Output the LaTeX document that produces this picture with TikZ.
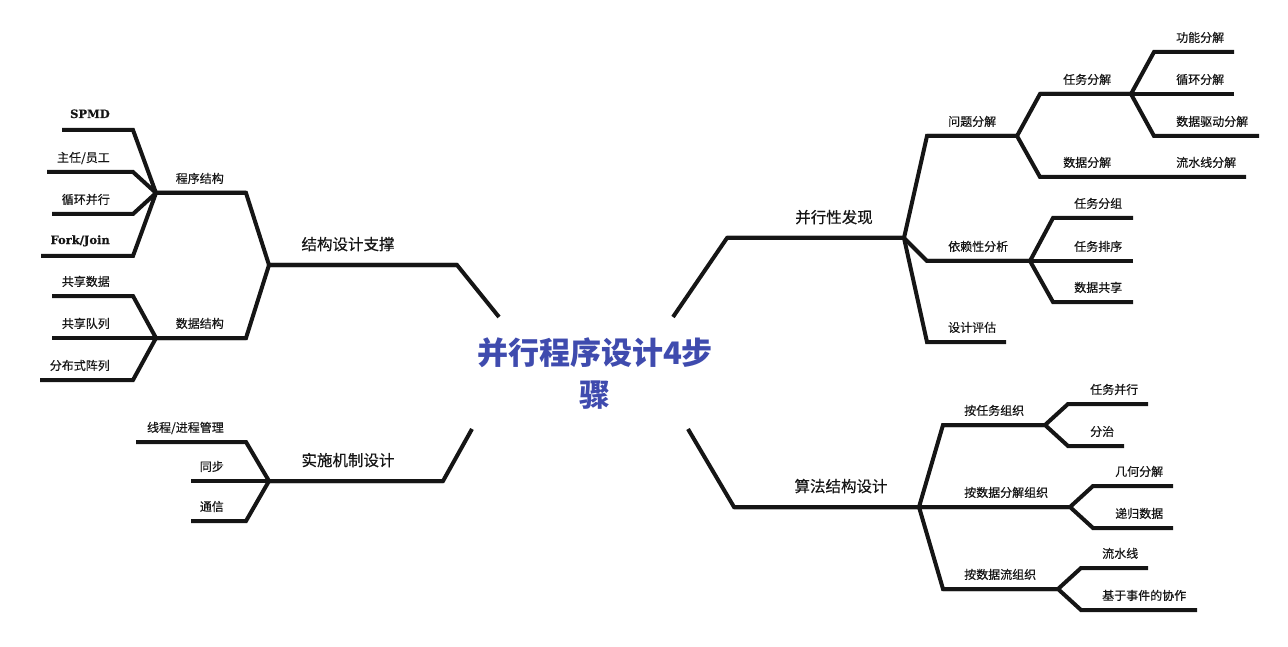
\documentclass[tikz,border=0pt]{standalone}
\usepackage{fontspec}
\newfontfamily\cjk[FakeBold=0.4]{Noto Sans CJK SC}
\newfontfamily\cjkroot{Noto Sans CJK SC}
\newfontfamily\serifb[FakeBold=0.5]{DejaVu Serif}
\definecolor{linecol}{HTML}{151515}
\definecolor{rootcol}{HTML}{3F4BAE}
\tikzset{
  branch/.style={line width=4pt,draw=linecol,line join=miter},
  leaf/.style={font=\cjk\fontsize{12}{14}\selectfont,text=linecol,inner sep=0pt},
  latin/.style={font=\serifb\bfseries\fontsize{11.5}{14}\selectfont,text=linecol,inner sep=0pt},
  topic/.style={font=\cjk\fontsize{15.5}{18}\selectfont,text=linecol,inner sep=0pt},
}
\begin{document}
\begin{tikzpicture}[x=1pt,y=-1pt]
\useasboundingbox (0,0) rectangle (1288,647);
\node[font=\cjkroot\bfseries\fontsize{31}{42}\selectfont,text=rootcol,align=center,inner sep=0pt] (root) at (595,374) {并行程序设计4步\\骤};
\coordinate (ul) at (499,317);
\coordinate (ur) at (673,317);
\coordinate (ll) at (472,429);
\coordinate (lr) at (688,429);

% left top
\coordinate (jgB) at (457,265); \coordinate (jgH) at (269,265);
\coordinate (cxB) at (246,193); \coordinate (cxH) at (156,193);
\coordinate (sjB) at (246,338); \coordinate (sjH) at (156,338);
\coordinate (spmdB) at (133,130); \coordinate (spmdE) at (62,130);
\coordinate (zrB) at (133,172); \coordinate (zrE) at (47,172);
\coordinate (xhB) at (133,214); \coordinate (xhE) at (52,214);
\coordinate (fjB) at (133,256); \coordinate (fjE) at (41,256);
\coordinate (gxB) at (133,296); \coordinate (gxE) at (52,296);
\coordinate (dlE) at (52,338);
\coordinate (fbB) at (133,380); \coordinate (fbE) at (40,380);
\node[topic,anchor=base] (jg) at (348,250) {结构设计支撑};
\node[leaf,anchor=base east] (cx) at (224,183) {程序结构};
\node[leaf,anchor=base east] (sj) at (224,328) {数据结构};
\node[latin,anchor=base east] (spmd) at (110,118) {SPMD};
\node[leaf,anchor=base east] (zr) at (110,162) {主任/员工};
\node[leaf,anchor=base east] (xh) at (110,204) {循环并行};
\node[latin,anchor=base east] (fj) at (110,244) {Fork/Join};
\node[leaf,anchor=base east] (gx) at (110,286) {共享数据};
\node[leaf,anchor=base east] (dl) at (110,328) {共享队列};
\node[leaf,anchor=base east] (fb) at (110,370) {分布式阵列};
\draw[branch] (spmdE) -- (spmdB) -- (cxH) -- (cxB) -- (jgH) -- (jgB) -- (ul);
\draw[branch] (zrE) -- (zrB) -- (cxH) -- (cxB);
\draw[branch] (xhE) -- (xhB) -- (cxH) -- (cxB);
\draw[branch] (fjE) -- (fjB) -- (cxH) -- (cxB);
\draw[branch] (gxE) -- (gxB) -- (sjH) -- (sjB) -- (jgH) -- (jgB);
\draw[branch] (dlE) -- (sjH) -- (sjB);
\draw[branch] (fbE) -- (fbB) -- (sjH) -- (sjB);

% left bottom
\coordinate (ssB) at (443,481); \coordinate (ssH) at (269,481);
\coordinate (xcB) at (246,442); \coordinate (xcE) at (136,442);
\coordinate (tbE) at (191,481);
\coordinate (txB) at (246,521); \coordinate (txE) at (191,521);
\node[topic,anchor=base] (ss) at (348,466) {实施机制设计};
\node[leaf,anchor=base east] (xc) at (224,432) {线程/进程管理};
\node[leaf,anchor=base east] (tb) at (224,471) {同步};
\node[leaf,anchor=base east] (tx) at (224,511) {通信};
\draw[branch] (xcE) -- (xcB) -- (ssH) -- (ssB) -- (ll);
\draw[branch] (tbE) -- (ssH) -- (ssB);
\draw[branch] (txE) -- (txB) -- (ssH) -- (ssB);

% right top
\coordinate (bxB) at (727,238); \coordinate (bxH) at (904,238);
\coordinate (wtB) at (927,136); \coordinate (wtH) at (1017,136);
\coordinate (rwB) at (1040,94); \coordinate (rwH) at (1131,94);
\coordinate (gnB) at (1154,52); \coordinate (gnE) at (1234,52);
\coordinate (xfE) at (1234,94);
\coordinate (qdB) at (1154,136); \coordinate (qdE) at (1259,136);
\coordinate (sfB) at (1040,177); \coordinate (sfH) at (1131,177);
\coordinate (lsE) at (1246,177);
\coordinate (ylB) at (927,261); \coordinate (ylH) at (1030,261);
\coordinate (fzB) at (1053,218); \coordinate (fzE) at (1133,218);
\coordinate (pxE) at (1133,261);
\coordinate (gsB) at (1053,302); \coordinate (gsE) at (1133,302);
\coordinate (pgB) at (927,342); \coordinate (pgE) at (1006,342);
\node[topic,anchor=base] (bx) at (834,223) {并行性发现};
\node[leaf,anchor=base west] (wt) at (948,126) {问题分解};
\node[leaf,anchor=base west] (rw) at (1063,84) {任务分解};
\node[leaf,anchor=base west] (gn) at (1176,42) {功能分解};
\node[leaf,anchor=base west] (xf) at (1176,84) {循环分解};
\node[leaf,anchor=base west] (qd) at (1176,126) {数据驱动分解};
\node[leaf,anchor=base west] (sf) at (1063,167) {数据分解};
\node[leaf,anchor=base west] (ls) at (1176,167) {流水线分解};
\node[leaf,anchor=base west] (yl) at (948,251) {依赖性分析};
\node[leaf,anchor=base west] (fz) at (1074,208) {任务分组};
\node[leaf,anchor=base west] (px) at (1074,251) {任务排序};
\node[leaf,anchor=base west] (gs) at (1074,292) {数据共享};
\node[leaf,anchor=base west] (pg) at (948,332) {设计评估};
\draw[branch] (gnE) -- (gnB) -- (rwH) -- (rwB) -- (wtH) -- (wtB) -- (bxH) -- (bxB) -- (ur);
\draw[branch] (xfE) -- (rwH) -- (rwB);
\draw[branch] (qdE) -- (qdB) -- (rwH) -- (rwB);
\draw[branch] (lsE) -- (sfH) -- (sfB) -- (wtH) -- (wtB);
\draw[branch] (fzE) -- (fzB) -- (ylH) -- (ylB) -- (bxH) -- (bxB);
\draw[branch] (pxE) -- (ylH) -- (ylB);
\draw[branch] (gsE) -- (gsB) -- (ylH) -- (ylB);
\draw[branch] (pgE) -- (pgB) -- (bxH) -- (bxB);

% right bottom
\coordinate (sdB) at (734,507); \coordinate (sdH) at (919,507);
\coordinate (arB) at (943,425); \coordinate (arH) at (1045,425);
\coordinate (rbB) at (1068,404); \coordinate (rbE) at (1148,404);
\coordinate (fhB) at (1068,446); \coordinate (fhE) at (1124,446);
\coordinate (afH) at (1070,507);
\coordinate (jhB) at (1093,486); \coordinate (jhE) at (1173,486);
\coordinate (dgB) at (1093,528); \coordinate (dgE) at (1173,528);
\coordinate (alB) at (943,589); \coordinate (alH) at (1058,589);
\coordinate (lxB) at (1081,568); \coordinate (lxE) at (1148,568);
\coordinate (jsB) at (1081,610); \coordinate (jsE) at (1197,610);
\node[topic,anchor=base] (sd) at (841,492) {算法结构设计};
\node[leaf,anchor=base west] (ar) at (964,415) {按任务组织};
\node[leaf,anchor=base west] (rb) at (1090,394) {任务并行};
\node[leaf,anchor=base west] (fh) at (1090,436) {分治};
\node[leaf,anchor=base west] (af) at (964,497) {按数据分解组织};
\node[leaf,anchor=base west] (jh) at (1115,476) {几何分解};
\node[leaf,anchor=base west] (dg) at (1115,518) {递归数据};
\node[leaf,anchor=base west] (al) at (964,579) {按数据流组织};
\node[leaf,anchor=base west] (lx) at (1102,558) {流水线};
\node[leaf,anchor=base west] (js) at (1102,600) {基于事件的协作};
\draw[branch] (rbE) -- (rbB) -- (arH) -- (arB) -- (sdH) -- (sdB) -- (lr);
\draw[branch] (fhE) -- (fhB) -- (arH) -- (arB);
\draw[branch] (jhE) -- (jhB) -- (afH) -- (sdH) -- (sdB);
\draw[branch] (dgE) -- (dgB) -- (afH) -- (sdH);
\draw[branch] (lxE) -- (lxB) -- (alH) -- (alB) -- (sdH) -- (sdB);
\draw[branch] (jsE) -- (jsB) -- (alH) -- (alB);
\end{tikzpicture}
\end{document}
